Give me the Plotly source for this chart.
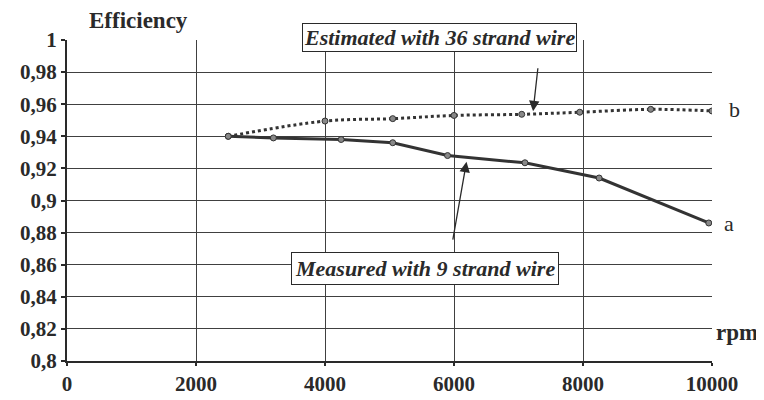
import plotly.graph_objects as go

# Data
rpm_a = [2500, 3200, 4250, 5050, 5900, 7100, 8250, 9950]
eff_a = [0.940, 0.939, 0.938, 0.936, 0.928, 0.9235, 0.914, 0.886]

rpm_b = [2500, 4000, 5050, 6000, 7050, 7950, 9050, 10000]
eff_b = [0.940, 0.9495, 0.951, 0.953, 0.9537, 0.955, 0.9568, 0.9558]

x_ticks = [0, 2000, 4000, 6000, 8000, 10000]
y_ticks = [0.8, 0.82, 0.84, 0.86, 0.88, 0.9, 0.92, 0.94, 0.96, 0.98, 1]

SERIF = "Liberation Serif"
INK = "#2a2a2a"

fig = go.Figure()
fig.add_trace(go.Scatter(
    x=rpm_a, y=eff_a, mode="lines+markers", name="a",
    line=dict(color="#333333", width=3),
    marker=dict(size=6, color="#888888", line=dict(color="#333333", width=1)),
))
fig.add_trace(go.Scatter(
    x=rpm_b, y=eff_b, mode="lines+markers", name="b",
    line=dict(color="#333333", width=3, dash="dot", shape="spline"),
    marker=dict(size=6, color="#888888", line=dict(color="#333333", width=1)),
))


def label(x, y, text, size, **kw):
    d = dict(x=x, y=y, xref="paper", yref="paper", text=text, showarrow=False,
             xanchor="center", yanchor="middle",
             font=dict(family=SERIF, size=size, color=INK))
    d.update(kw)
    return d


ann = []
ann.append(label(0.111, 1.062, "<b>Efficiency</b>", 23))
ann.append(label(1.0385, 0.0895, "<b>rpm</b>", 23))
ann.append(label(1.0354, 0.784, "b", 22))
ann.append(label(1.026, 0.429, "a", 22))
ann.append(label(0.578, 1.009, "<b><i>Estimated with 36 strand wire</i></b>", 22,
                 bgcolor="white", bordercolor=INK, borderwidth=1, borderpad=1))
ann.append(label(0.5547, 0.287, "<b><i>Measured with 9 strand wire</i></b>", 22,
                 bgcolor="white", bordercolor=INK, borderwidth=1, borderpad=3))
# Arrows
ann.append(dict(x=7226, y=0.9556, ax=7303, ay=0.9833, xref="x", yref="y",
                axref="x", ayref="y", text="", showarrow=True, arrowhead=2,
                arrowsize=1.6, arrowwidth=1.3, arrowcolor=INK))
ann.append(dict(x=6194, y=0.9241, ax=5978, ay=0.8747, xref="x", yref="y",
                axref="x", ayref="y", text="", showarrow=True, arrowhead=2,
                arrowsize=1.6, arrowwidth=1.3, arrowcolor=INK))

fig.update_layout(
    width=764, height=400,
    margin=dict(l=53, r=60, t=32, b=31),
    paper_bgcolor="white", plot_bgcolor="white",
    showlegend=False,
    separators=",.",
    annotations=ann,
    xaxis=dict(range=[0, 10000], tickvals=x_ticks, tickformat="d",
               showgrid=True, gridcolor="#404040", gridwidth=1.2,
               showline=True, linecolor=INK, linewidth=2,
               ticks="outside", ticklen=3, tickwidth=2, tickcolor=INK,
               tickfont=dict(family=SERIF, size=21, color=INK, weight="bold"),
               zeroline=False),
    yaxis=dict(range=[0.8, 1], tickvals=y_ticks,
               showgrid=True, gridcolor="#404040", gridwidth=1.2,
               showline=True, linecolor=INK, linewidth=2,
               ticks="outside", ticklen=4, tickwidth=2, tickcolor=INK,
               tickfont=dict(family=SERIF, size=21, color=INK, weight="bold"),
               zeroline=False),
)

fig.write_html("out.html")
